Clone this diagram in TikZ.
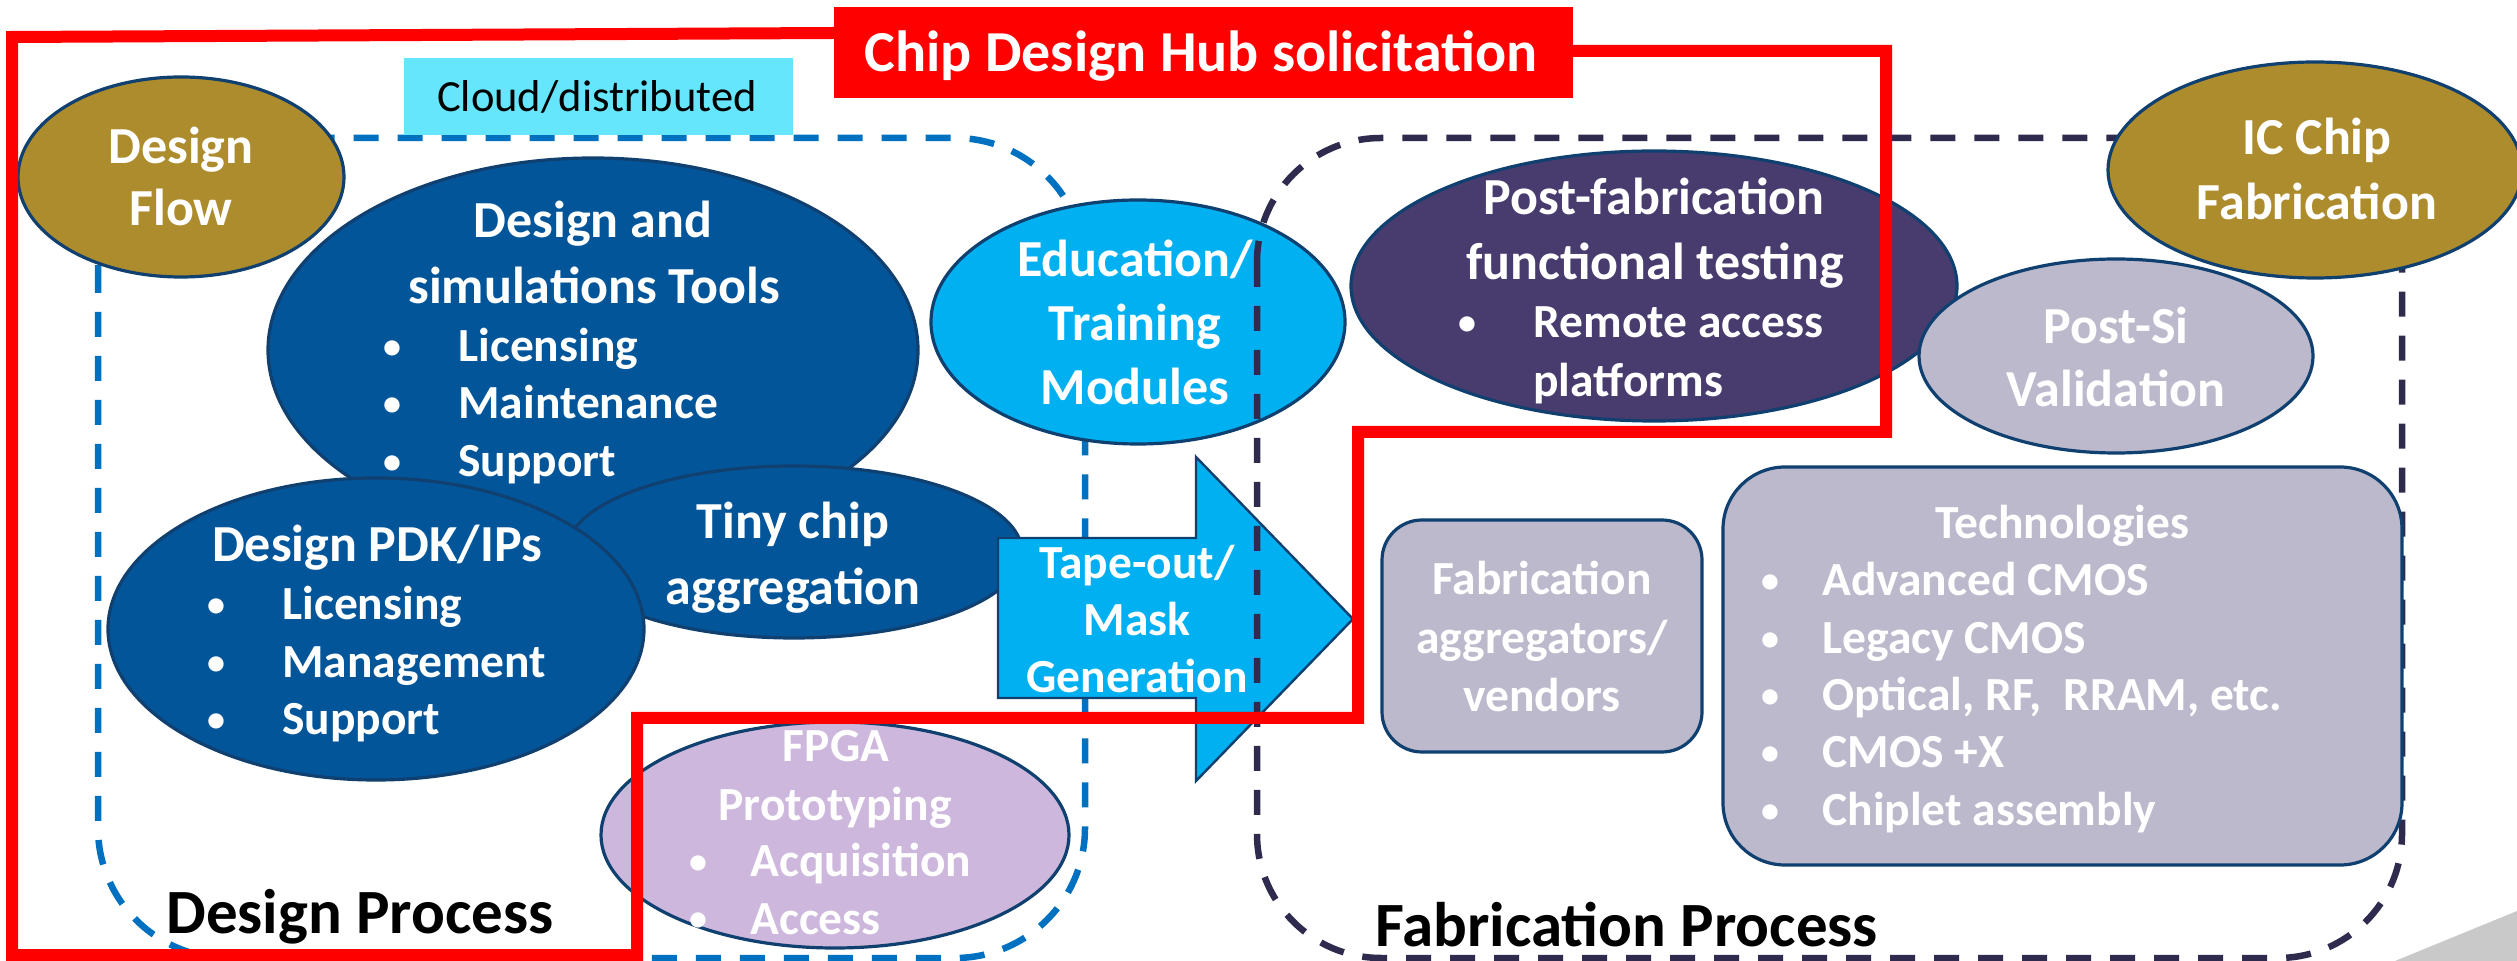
\documentclass[tikz,border=0pt]{standalone}
\usepackage{fontspec}
\setmainfont{Carlito}
\usetikzlibrary{shapes.geometric}
\definecolor{dkblue}{HTML}{03559A}
\definecolor{gold}{HTML}{AD8C2E}
\definecolor{cyanC}{HTML}{00B0F0}
\definecolor{cloudC}{HTML}{66E6FC}
\definecolor{postfab}{HTML}{483B6E}
\definecolor{lav}{HTML}{BDB9CD}
\definecolor{fpgaC}{HTML}{CDB7DD}
\definecolor{edgeC}{HTML}{10406F}
\definecolor{blueDash}{HTML}{0070C0}
\definecolor{purpDash}{HTML}{2F2B4F}
\definecolor{wedge}{HTML}{C9C9C9}
\begin{document}
\begin{tikzpicture}[x=0.5pt,y=-0.5pt,
  shp/.style={draw=edgeC, line width=1.6pt, inner sep=0pt},
  ell/.style={shp, ellipse},
  ttl/.style={font=\bfseries\fontsize{26}{31}\selectfont, text=white, inner sep=0pt, text height=16.4pt, text depth=0pt},
  bdy/.style={font=\bfseries\fontsize{23.75}{28}\selectfont, text=white, inner sep=0pt, text height=15pt, text depth=0pt},
  bul/.style={font=\bfseries\fontsize{18}{22}\selectfont, text=white, inner sep=0pt},
  big/.style={font=\bfseries\fontsize{31.5}{37}\selectfont, text=black, inner sep=0pt, text height=19.9pt, text depth=0pt},
  regionA/.style={draw=blueDash, line width=3.25pt, dash pattern=on 12.5pt off 9.5pt, rounded corners=65pt},
  regionB/.style={draw=purpDash, line width=3.25pt, dash pattern=on 12.5pt off 9.5pt, rounded corners=62pt},
  redline/.style={draw=red, line width=6pt, line join=miter}]
\useasboundingbox (0,0) rectangle (2517,961);
\clip (0,0) rectangle (2517,961);

% decorative wedge
\fill[wedge] (2395,961) -- (2517,911) -- (2517,961) -- cycle;

% Design process region
\draw[regionA] (98,138) rectangle (1085,958);
\node[fill=cloudC, minimum width=194.5pt, minimum height=38.5pt, inner sep=0pt] (cloud) at (598.5,96.5) {};
\node[font=\fontsize{22.3}{27}\selectfont, inner sep=0pt, text height=14.1pt, text depth=0pt] (cloudt) at (597,97) {Cloud/distributed};

\node[ell, fill=gold, minimum width=163pt, minimum height=100pt] (flow) at (181,177) {};
\node[ttl] (flow1) at (181,147) {Design};
\node[ttl] (flow2) at (181,209) {Flow};

\node[ell, fill=dkblue, minimum width=325pt, minimum height=192pt] (tools) at (593,350) {};
\node[ttl] (tools1) at (593,221) {Design and};
\node[ttl] (tools2) at (594,287) {simulations Tools};
\node[bul] (tb1) at (392,350) {•};
\node[bdy, anchor=west] (tl1) at (458,347) {Licensing};
\node[bul] (tb2) at (392,407) {•};
\node[bdy, anchor=west] (tl2) at (458,404) {Maintenance};
\node[bul] (tb3) at (392,465) {•};
\node[bdy, anchor=west] (tl3) at (458,462) {Support};

\node[ell, fill=dkblue, minimum width=228pt, minimum height=86pt] (tiny) at (794,552) {};
\node[ttl] (tiny1) at (793,522) {Tiny chip};
\node[ttl] (tiny2) at (793,588) {aggregation};

\node[ell, fill=dkblue, minimum width=268pt, minimum height=151pt] (pdk) at (376,629) {};
\node[ttl] (pdk1) at (377,545) {Design PDK/IPs};
\node[bul] (pb1) at (216,608) {•};
\node[bdy, anchor=west] (pl1) at (282,605) {Licensing};
\node[bul] (pb2) at (216,666) {•};
\node[bdy, anchor=west] (pl2) at (282,663) {Management};
\node[bul] (pb3) at (216,723) {•};
\node[bdy, anchor=west] (pl3) at (282,720) {Support};

\node[ell, fill=cyanC, minimum width=207pt, minimum height=122pt] (edu) at (1138,322) {};
\node[ttl] (edu1) at (1135,260) {Education/};
\node[ttl] (edu2) at (1135,324) {Training};
\node[ttl] (edu3) at (1135,388) {Modules};

\node[ell, fill=fpgaC, minimum width=234pt, minimum height=113pt] (fpga) at (835,835) {};
\node[bdy] (fpga1) at (836,747) {FPGA};
\node[bdy] (fpga2) at (835,805) {Prototyping};
\node[bul] (fb1) at (698,865) {•};
\node[bdy, anchor=west] (fl1) at (750,862) {Acquisition};
\node[bul] (fb2) at (698,922) {•};
\node[bdy, anchor=west] (fl2) at (750,919) {Access};

\node[big, anchor=west] (dproc) at (166,914) {Design Process};

% tape-out arrow
\draw[draw=edgeC, line width=1.2pt, fill=cyanC, line join=miter]
  (998,538) -- (1196,538) -- (1196,457) -- (1353,619) -- (1196,781) -- (1196,698) -- (998,698) -- cycle;
\node[bdy] (tape1) at (1137,564) {Tape-out/};
\node[bdy] (tape2) at (1137,621) {Mask};
\node[bdy] (tape3) at (1137,678) {Generation};

% Fabrication process region
\draw[regionB] (1257,138) rectangle (2402,958);

\node[ell, fill=postfab, minimum width=303pt, minimum height=135pt] (pf) at (1654,286) {};
\node[ttl] (pf1) at (1654,198) {Post-fabrication};
\node[ttl] (pf2) at (1655,263) {functional testing};
\node[bul] (pfb) at (1467,326) {•};
\node[bdy, anchor=west] (pfl1) at (1533,323) {Remote access};
\node[bdy, anchor=west] (pfl2) at (1533,382) {platforms};

\node[ell, fill=gold, minimum width=207pt, minimum height=108pt] (ic) at (2315,170) {};
\node[ttl] (ic1) at (2317,138) {IC Chip};
\node[ttl] (ic2) at (2317,203) {Fabrication};

\node[ell, fill=lav, minimum width=197pt, minimum height=97pt] (psi) at (2116,356) {};
\node[ttl] (psi1) at (2116,327) {Post-Si};
\node[ttl] (psi2) at (2116,390) {Validation};

\node[shp, fill=lav, rounded corners=20pt, minimum width=160pt, minimum height=116pt] (agg) at (1542,636) {};
\node[bdy] (agg1) at (1542,580) {Fabrication};
\node[bdy] (agg2) at (1542,639) {aggregators/};
\node[bdy] (agg3) at (1542,697) {vendors};

\node[shp, fill=lav, rounded corners=31pt, minimum width=339.5pt, minimum height=199pt] (tech) at (2062.5,666) {};
\node[bdy] (tech0) at (2062,524) {Technologies};
\node[bul] (xb1) at (1770,584) {•};
\node[bdy, anchor=west] (xl1) at (1822,581) {Advanced CMOS};
\node[bul] (xb2) at (1770,642) {•};
\node[bdy, anchor=west] (xl2) at (1822,639) {Legacy CMOS};
\node[bul] (xb3) at (1770,699) {•};
\node[bdy, anchor=west] (xl3) at (1822,696) {Optical, RF,\ \ RRAM, etc.};
\node[bul] (xb4) at (1770,756) {•};
\node[bdy, anchor=west] (xl4) at (1822,753) {CMOS +X};
\node[bul] (xb5) at (1770,814) {•};
\node[bdy, anchor=west] (xl5) at (1822,811) {Chiplet assembly};

\node[big, anchor=west] (fproc) at (1375,927) {Fabrication Process};

% red solicitation frame
\draw[redline] (834,33) -- (12,37) -- (12,955) -- (637,955) -- (637,718) -- (1358,718)
  -- (1358,432) -- (1886,432) -- (1886,51) -- (1573,51);
\node[fill=red, minimum width=369.5pt, minimum height=45.5pt, inner sep=0pt] (hub) at (1203.5,52.5) {};
\node[font=\bfseries\fontsize{29}{35}\selectfont, text=white, inner sep=0pt, text height=18.3pt, text depth=0pt] (hubt) at (1201,53) {Chip Design Hub solicitation};
\end{tikzpicture}
\end{document}
